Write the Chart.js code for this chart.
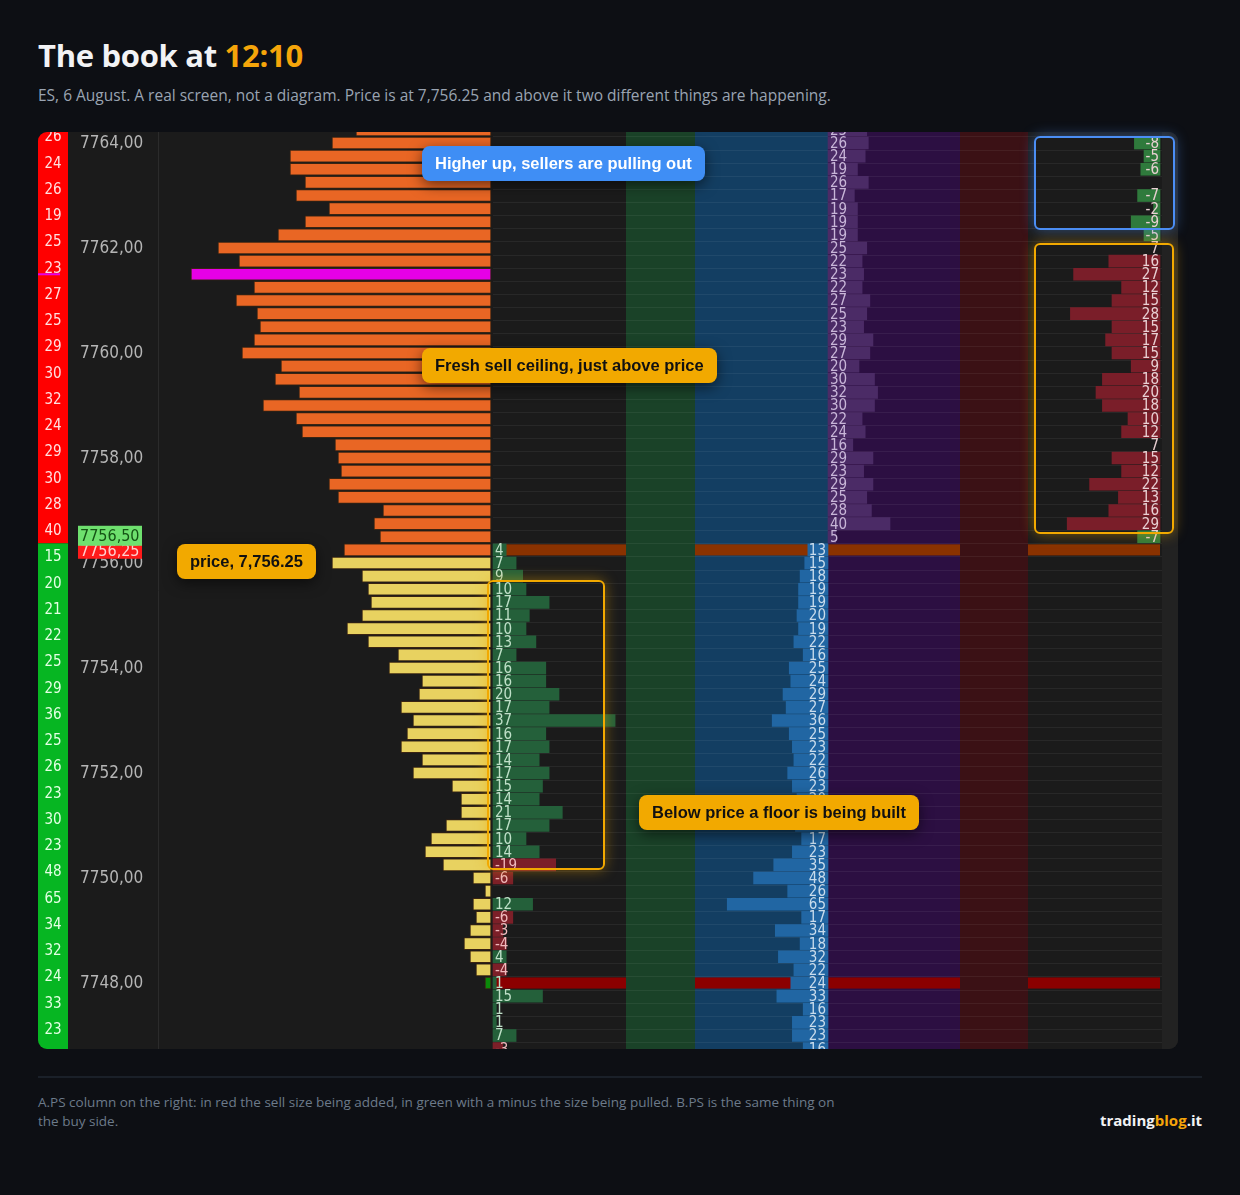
<!DOCTYPE html>
<html lang="en">
<head>
<meta charset="UTF-8">
<title>The book at 12:10</title>
<script src="https://cdn.jsdelivr.net/npm/chart.js"></script>
<style>
  body { margin: 0; background: #0d0f14; font-family: "Open Sans", sans-serif; width: 1240px; height: 1195px; position: relative; overflow: hidden; }
  h1 { position: absolute; left: 38px; top: 34px; margin: 0; font-size: 31px; font-weight: 700; color: #f2f3f5; letter-spacing: -0.3px; }
  h1 span { color: #f5a50a; }
  .sub { position: absolute; left: 38px; top: 84px; font-size: 15.5px; color: #9aa4b2; }
  #panel { position: absolute; left: 38px; top: 132px; width: 1140px; height: 917px; border-radius: 9px; overflow: hidden; background: #1b1b1b; }
  .note { position: absolute; font: bold 16.5px "Liberation Sans", Arial, sans-serif; padding: 0 13px; height: 35px; line-height: 35px; border-radius: 8px; box-shadow: 0 4px 14px rgba(0,0,0,0.55); white-space: nowrap; }
  .blue { background: #3f8ef5; color: #fff; }
  .amber { background: #f2a900; color: #111; }
  .box { position: absolute; border-radius: 6px; border: 2px solid #f2a900; box-shadow: 0 0 14px rgba(242,169,0,0.45); }
  .box.b { border-color: #4b8ef5; box-shadow: 0 0 14px rgba(75,142,245,0.45); }
  .rule { position: absolute; left: 38px; top: 1076px; width: 1164px; height: 2px; background: #1a2029; }
  .foot { position: absolute; left: 38px; top: 1093px; width: 800px; font-size: 13.5px; line-height: 19px; color: #6c7a8a; }
  .brand { position: absolute; right: 38px; top: 1110px; font: bold 15px "Open Sans", sans-serif; color: #f2f3f5; }
  .brand span { color: #f5a50a; }
</style>
</head>
<body>
<h1>The book at <span>12:10</span></h1>
<div class="sub">ES, 6 August. A real screen, not a diagram. Price is at 7,756.25 and above it two different things are happening.</div>

<div id="panel"><canvas id="book"></canvas></div>

<div class="box b" style="left:1034px;top:136px;width:137px;height:90px"></div>
<div class="box" style="left:1034px;top:243px;width:136px;height:287px"></div>
<div class="box" style="left:487px;top:580px;width:114px;height:286px"></div>

<div class="note blue" style="left:422px;top:146px">Higher up, sellers are pulling out</div>
<div class="note amber" style="left:422px;top:348px">Fresh sell ceiling, just above price</div>
<div class="note amber" style="left:177px;top:544px">price, 7,756.25</div>
<div class="note amber" style="left:639px;top:795px">Below price a floor is being built</div>

<div class="rule"></div>
<div class="foot">A.PS column on the right: in red the sell size being added, in green with a minus the size being pulled. B.PS is the same thing on the buy side.</div>
<div class="brand">trading<span>blog</span>.it</div>

<script>
// price levels, top (7764.25) to bottom (7746.75), tick 0.25
const topPrice = 7764.25;
const levels = [];
for (let i = 0; i < 71; i++) levels.push(topPrice - i * 0.25);

const lastPrice = 7756.25;
const pocPrice = 7761.5;

// volume profile, one per level
const profile = [45, 53, 67, 67, 62, 65, 54, 62, 71, 91, 84, 100, 79, 85, 78, 77, 79, 83, 70, 72,
  64, 76, 65, 63, 52, 51, 50, 54, 51, 36, 39, 37, 49,
  53, 43, 41, 40, 43, 48, 41, 31, 34, 23, 24, 30, 26, 28, 30, 23, 26, 13, 10, 10, 15, 20, 22, 16,
  6, 2, 6, 5, 7, 9, 7, 5, 2, 0, 0, 0, 0, 0];

// ask size, 7764.25 down to 7756.50
const askSize = [25, 26, 24, 19, 26, 17, 19, 19, 19, 25, 22, 23, 22, 27, 25, 23, 29, 27, 20, 30, 32, 30,
  22, 24, 16, 29, 23, 29, 25, 28, 40, 5];

// A.PS, 7764.25 down to 7756.50
const aps = [null, -8, -5, -6, null, -7, -2, -9, -5, 7, 16, 27, 12, 15, 28, 15, 17, 15, 9, 18, 20, 18,
  10, 12, 7, 15, 12, 22, 13, 16, 29, -7];

// bid size, 7756.25 down to 7746.75
const bidSize = [13, 15, 18, 19, 19, 20, 19, 22, 16, 25, 24, 29, 27, 36, 25, 23, 22, 26, 23, 20, 18, 21,
  17, 23, 35, 48, 26, 65, 17, 34, 18, 32, 22, 24, 33, 16, 23, 23, 16];

// bid change column, 7756.25 down to 7746.75
const bidDelta = [4, 7, 9, 10, 17, 11, 10, 13, 7, 16, 16, 20, 17, 37, 16, 17, 14, 17, 15, 14, 21, 17, 10, 14,
  -19, -6, null, 12, -6, -3, -4, 4, -4, 1, 15, 1, 1, 7, -3];

// left ladder column, every half point starting 7764.125
const ladder = [26, 24, 26, 19, 25, 23, 27, 25, 29, 30, 32, 24, 29, 30, 28, 40,
  15, 20, 21, 22, 25, 29, 36, 25, 26, 23, 30, 23, 48, 65, 34, 32, 24, 33, 23];

const priceTicks = [7764, 7762, 7760, 7758, 7756, 7754, 7752, 7750, 7748];
const redRowPrice = 7748;

// column layout (x units of the chart)
const COL = { ladder: [0, 30], price: [30, 120], profEnd: 453, delta: [455, 588], green: [588, 657],
  bid: [657, 790], ask: [790, 922], red: [922, 990], aps: [990, 1124], scroll: [1124, 1140] };
const profK = 3, deltaK = 3.3, sizeK = 1.55, apsK = 3.2;

const askLevels = levels.slice(0, askSize.length);
const bidLevels = levels.slice(askSize.length);

const profData = levels.map((p, i) => ({ y: p, x: [COL.profEnd - profile[i] * profK, COL.profEnd] })).filter((d, i) => profile[i] > 0);
const profColors = profData.map(d => d.y === pocPrice ? '#e600e6' : d.y === redRowPrice ? '#0a8a0a' : d.y >= lastPrice ? '#e96624' : '#e8d260');

const askData = askLevels.map((p, i) => ({ y: p, x: [COL.ask[0], COL.ask[0] + askSize[i] * sizeK] }));
const bidData = bidLevels.map((p, i) => ({ y: p, x: [COL.bid[1] - bidSize[i] * sizeK, COL.bid[1]] }));
const deltaData = bidLevels.map((p, i) => ({ y: p, x: [COL.delta[0], COL.delta[0] + Math.abs(bidDelta[i] || 0) * deltaK] })).filter((d, i) => bidDelta[i] !== null);
const deltaCols = bidDelta.filter(v => v !== null).map(v => v < 0 ? '#7c1f28' : '#24603a');
const apsData = askLevels.map((p, i) => ({ y: p, x: [COL.aps[1] - 2 - Math.abs(aps[i] || 0) * apsK, COL.aps[1] - 2] })).filter((d, i) => aps[i] !== null && aps[i] !== 7);
const apsCols = aps.filter(v => v !== null && v !== 7).map(v => v < 0 ? '#2f7a3c' : '#7a1e29');

const numFont = '15px "DejaVu Sans Condensed", "Liberation Sans Narrow", sans-serif';

const ladderPlugin = {
  id: 'ladder',
  beforeDatasetsDraw(chart) {
    const { ctx, scales: { x, y }, chartArea } = chart;
    const X = v => x.getPixelForValue(v);
    const rowH = y.getPixelForValue(7750) - y.getPixelForValue(7750.25);
    const band = (a, b, c) => { ctx.fillStyle = c; ctx.fillRect(X(a), chartArea.top, X(b) - X(a), chartArea.bottom - chartArea.top); };
    ctx.save();
    band(COL.ladder[0], COL.scroll[1], '#1b1b1b');
    band(COL.green[0], COL.green[1], '#1a4228');
    band(COL.bid[0], COL.bid[1], '#133e62');
    band(COL.ask[0], COL.ask[1], '#2c0f42');
    band(COL.red[0], COL.red[1], '#3b1115');
    band(COL.scroll[0], COL.scroll[1], '#222222');
    // ladder column red above / green below price
    const split = y.getPixelForValue(lastPrice + 0.125);
    ctx.fillStyle = '#ff0000';
    ctx.fillRect(X(0), chartArea.top, X(30) - X(0), split - chartArea.top);
    ctx.fillStyle = '#06b622';
    ctx.fillRect(X(0), split, X(30) - X(0), chartArea.bottom - split);
    ctx.fillStyle = '#e600e6';
    ctx.fillRect(X(0), y.getPixelForValue(pocPrice) - 1, 22, 2);
    // row lines
    ctx.strokeStyle = 'rgba(255,255,255,0.06)';
    ctx.lineWidth = 1;
    levels.forEach(p => {
      const yy = Math.round(y.getPixelForValue(p) + rowH / 2) + 0.5;
      ctx.beginPath(); ctx.moveTo(X(COL.delta[0]), yy); ctx.lineTo(X(COL.aps[1]), yy); ctx.stroke();
    });
    ctx.strokeStyle = '#2b2b2b';
    ctx.beginPath(); ctx.moveTo(X(120) + 0.5, chartArea.top); ctx.lineTo(X(120) + 0.5, chartArea.bottom); ctx.stroke();
    // highlight rows
    const hl = (p, c) => {
      const t = y.getPixelForValue(p) - rowH / 2 + 1, h = rowH - 2;
      ctx.fillStyle = c;
      [[COL.delta[0], COL.delta[1]], [COL.bid[0], COL.bid[1]], [COL.ask[0], COL.ask[1]], [COL.aps[0], COL.aps[1] - 2]]
        .forEach(([a, b]) => ctx.fillRect(X(a), t, X(b) - X(a), h));
    };
    hl(lastPrice, '#8a3200');
    hl(redRowPrice, '#8b0000');
    ctx.restore();
  },
  afterDatasetsDraw(chart) {
    const { ctx, scales: { x, y } } = chart;
    const X = v => x.getPixelForValue(v);
    ctx.save();
    ctx.textBaseline = 'middle';
    ctx.font = numFont;
    const txt = (s, px, py, align, color) => { ctx.textAlign = align; ctx.fillStyle = color; ctx.fillText(s, px, py + 1); };
    askLevels.forEach((p, i) => txt(String(askSize[i]), X(COL.ask[0]) + 2, y.getPixelForValue(p), 'left', '#c8b6d8'));
    bidLevels.forEach((p, i) => txt(String(bidSize[i]), X(COL.bid[1]) - 2, y.getPixelForValue(p), 'right', '#c9dcec'));
    bidLevels.forEach((p, i) => { if (bidDelta[i] !== null) txt(String(bidDelta[i]), X(COL.delta[0]) + 2, y.getPixelForValue(p), 'left', bidDelta[i] < 0 ? '#f0b9bd' : '#bfe0c8'); });
    askLevels.forEach((p, i) => { if (aps[i] !== null) txt(String(aps[i]), X(COL.aps[1]) - 3, y.getPixelForValue(p), 'right', '#e9d0d3'); });
    ctx.font = '15px "DejaVu Sans Condensed", sans-serif';
    ladder.forEach((v, i) => txt(String(v), X(15), y.getPixelForValue(7764.125 - i * 0.5), 'center', i < 16 ? '#ffe0e0' : '#e4ffe4'));
    ctx.font = '17px "DejaVu Sans Condensed", sans-serif';
    priceTicks.forEach(p => txt(p.toFixed(2).replace('.', ','), X(42), y.getPixelForValue(p), 'left', '#b5b5b5'));
    // current bid / ask boxes
    const boxY = y.getPixelForValue(7756.5);
    ctx.fillStyle = '#ff1a1a'; ctx.fillRect(X(40), boxY + 8, X(104) - X(40), 14);
    ctx.font = '16px "DejaVu Sans Condensed", sans-serif';
    txt('7756,25', X(42), boxY + 14, 'left', '#ffd0d0');
    ctx.fillStyle = '#6ee06e'; ctx.fillRect(X(40), boxY - 11, X(104) - X(40), 20);
    txt('7756,50', X(42), boxY - 1, 'left', '#145214');
    ctx.restore();
  }
};

const common = { type: 'bar', borderSkipped: false, barThickness: 12, grouped: false };

new Chart(document.getElementById('book'), {
  type: 'bar',
  data: {
    datasets: [
      { ...common, label: 'Volume profile', data: profData, backgroundColor: profColors, borderColor: '#3a2412', borderWidth: 1 },
      { ...common, label: 'Ask', data: askData, backgroundColor: '#4b2b66' },
      { ...common, label: 'Bid', data: bidData, backgroundColor: '#2166a3' },
      { ...common, label: 'Bid change', data: deltaData, backgroundColor: deltaCols },
      { ...common, label: 'A.PS', data: apsData, backgroundColor: apsCols }
    ]
  },
  options: {
    indexAxis: 'y',
    responsive: true,
    maintainAspectRatio: false,
    animation: false,
    layout: { padding: 0 },
    plugins: { legend: { display: false }, tooltip: { enabled: false } },
    scales: {
      x: { type: 'linear', min: 0, max: 1140, display: false },
      y: { type: 'linear', min: 7746.743, max: 7764.21, offset: false, display: false }
    }
  },
  plugins: [ladderPlugin]
});
</script>
</body>
</html>
